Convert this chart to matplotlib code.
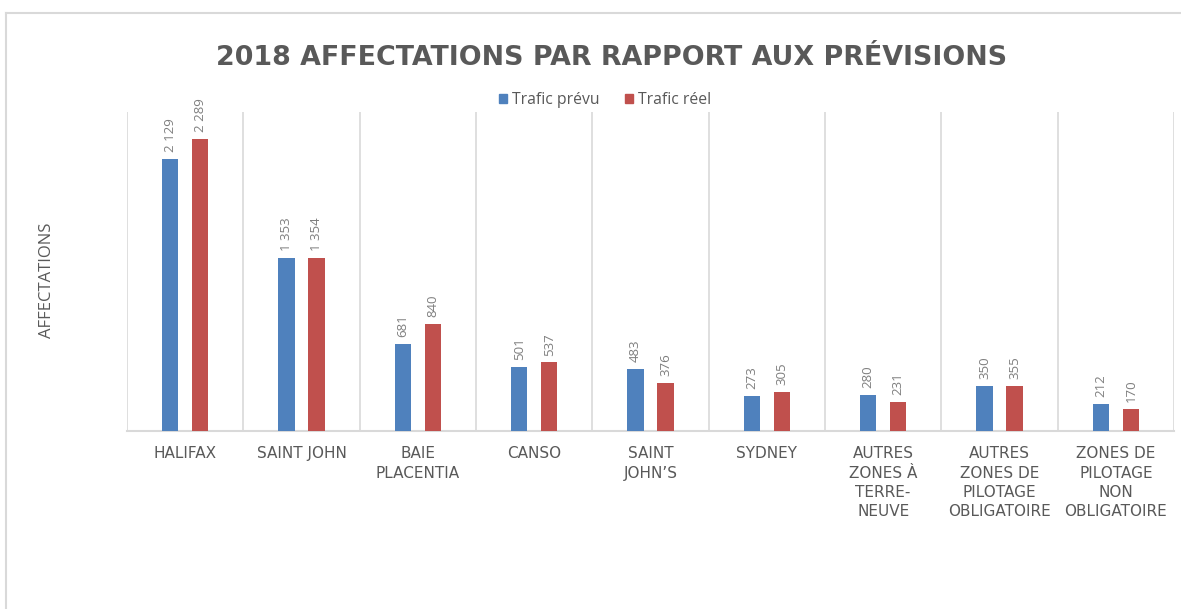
import matplotlib
matplotlib.use("Agg")
import matplotlib.pyplot as plt
from matplotlib.lines import Line2D
from matplotlib.patches import Patch
import numpy as np

categories = ["HALIFAX", "SAINT JOHN", "BAIE\nPLACENTIA", "CANSO", "SAINT\nJOHN\u2019S",
              "SYDNEY", "AUTRES\nZONES \u00c0\nTERRE-\nNEUVE",
              "AUTRES\nZONES DE\nPILOTAGE\nOBLIGATOIRE",
              "ZONES DE\nPILOTAGE\nNON\nOBLIGATOIRE"]
trafic_prevu = [2129, 1353, 681, 501, 483, 273, 280, 350, 212]
trafic_reel = [2289, 1354, 840, 537, 376, 305, 231, 355, 170]
series_names = ["Trafic pr\u00e9vu", "Trafic r\u00e9el"]
title = "2018 AFFECTATIONS PAR RAPPORT AUX PR\u00c9VISIONS"
ylabel = "AFFECTATIONS"

BLUE = "#4F81BD"
RED = "#C0504D"
GRID = "#D9D9D9"
TXT = "#595959"
LBL = "#7F7F7F"

plt.rcParams['font.family'] = ['Open Sans', 'DejaVu Sans']

fig = plt.figure(figsize=(11.81, 6.09), dpi=100)
W, H = 1181, 609
ax = fig.add_axes([127 / W, 1 - 431 / H, (1174 - 127) / W, (431 - 112) / H])

x = np.arange(len(categories))
bw = 0.138
off = 0.129
b1 = ax.bar(x - off, trafic_prevu, bw, color=BLUE, zorder=3)
b2 = ax.bar(x + off, trafic_reel, bw, color=RED, zorder=3)

def fmt(v):
    return f"{v:,}".replace(",", " ")

for bars, vals in ((b1, trafic_prevu), (b2, trafic_reel)):
    for rect, v in zip(bars, vals):
        ax.annotate(fmt(v), (rect.get_x() + rect.get_width() / 2, rect.get_height()),
                    xytext=(0, 5), textcoords="offset points", rotation=90,
                    ha="center", va="bottom", fontsize=9.5, color=LBL)

ax.set_xlim(-0.5, len(categories) - 0.5)
ax.set_ylim(0, 2500)
for b in np.arange(-0.5, len(categories), 1.0):
    ax.axvline(b, color=GRID, lw=1.2, zorder=1)

for s in ["top", "right", "left"]:
    ax.spines[s].set_visible(False)
ax.spines["bottom"].set_color(GRID)
ax.spines["bottom"].set_linewidth(1.5)
ax.set_yticks([])
ax.set_xticks(x)
ax.set_xticklabels(categories)
for t in ax.get_xticklabels():
    t.set_fontfamily("DejaVu Sans")
    t.set_fontsize(11)
    t.set_color(TXT)
    t.set_linespacing(1.36)
ax.tick_params(axis="x", length=0, pad=11)

fig.text(47 / W, 1 - 280 / H, ylabel, rotation=90, ha="center", va="center",
         fontsize=12, color=TXT)
fig.text(612 / W, 1 - 58 / H, title, ha="center", va="center", fontsize=19.4,
         fontweight="bold", color=TXT, fontfamily="DejaVu Sans")

handles = [Patch(color=BLUE), Patch(color=RED)]
fig.legend(handles, series_names, loc="center", bbox_to_anchor=(605 / W, 1 - 100 / H),
           ncol=2, frameon=False, fontsize=11.3, labelcolor=TXT, handlelength=0.55,
           handleheight=0.55, handletextpad=0.3, columnspacing=1.6)

# chart area border (clipped at right and bottom)
fig.add_artist(Line2D([6 / W, 6 / W], [0, 1 - 13 / H], color=GRID, lw=1.5, transform=fig.transFigure))
fig.add_artist(Line2D([6 / W, 1], [1 - 13 / H, 1 - 13 / H], color=GRID, lw=1.5, transform=fig.transFigure))

fig.savefig("out.png", dpi=100)
